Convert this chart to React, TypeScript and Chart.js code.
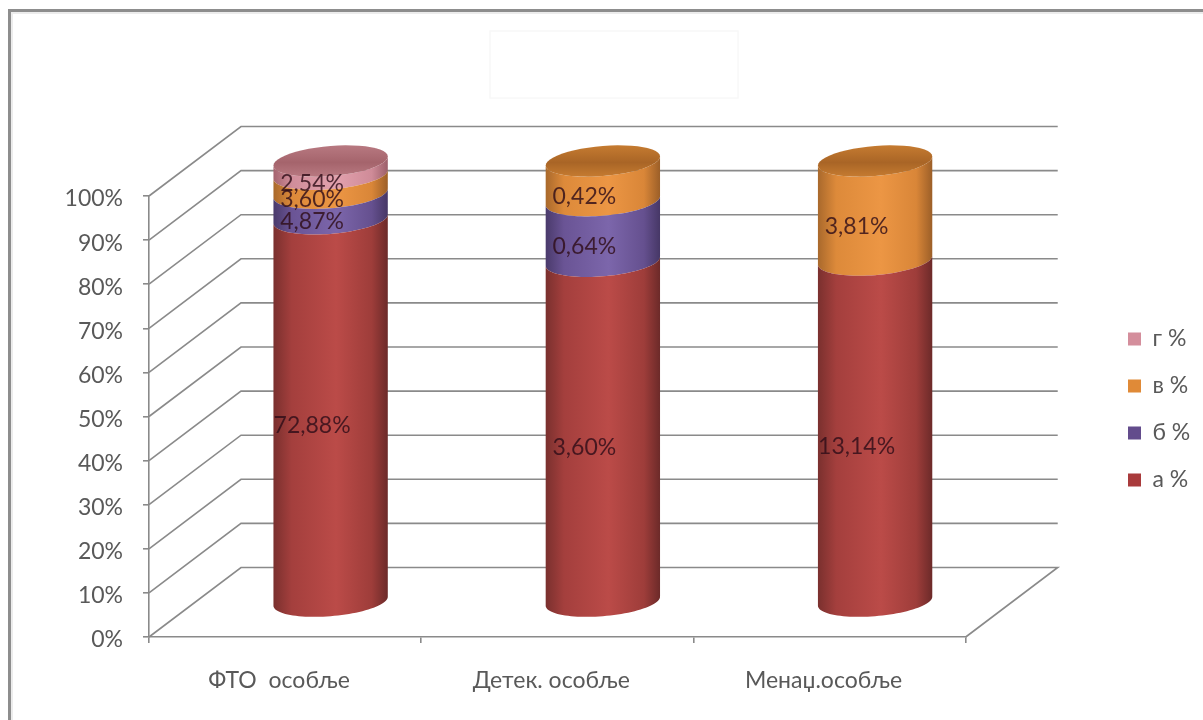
import React, { useEffect, useRef } from "react";
import { Chart, registerables } from "chart.js";

Chart.register(...registerables);

const categories = ["ФТО  особље", "Детек. особље", "Менаџ.особље"];
const seriesNames = ["а %", "б %", "в %", "г %"];
const valuesA = [72.88, 3.6, 13.14];
const valuesB = [4.87, 0.64, 0];
const valuesC = [3.6, 0.42, 3.81];
const valuesD = [2.54, 0, 0];
const rawSeries = [valuesA, valuesB, valuesC, valuesD];

const legendColors = ["#a93b3c", "#634c8c", "#e08a37", "#d48e9c"];
// Each ramp runs edge, mid, highlight, mid, edge across the cylinder; the last two tint its cap.
const ramps = [
  ["#7a302e", "#a43f3d", "#bb4b48", "#9e3d3a", "#6c2a29", "#8f3533", "#a8423f"],
  ["#4a3a6b", "#6a5495", "#7c66ab", "#65508f", "#463766", "#5a4780", "#6a5495"],
  ["#a9692c", "#dd8a3a", "#ec9644", "#d98638", "#9c5f28", "#a96526", "#c47a30"],
  ["#a5646f", "#d08d9a", "#e2a1ad", "#cf8b98", "#9c5f6a", "#a5646c", "#b77880"],
];

const FONT = "Lato, 'Open Sans', sans-serif";
const TEXT = "#595959";
const GRID = "#8a8a8a";

// Oblique projection of the plot depth, and the halves of the depth used by bars and labels.
const DEPTH_X = 92;
const DEPTH_Y = -69.5;
const BAR_DX = 45.5;
const BAR_DY = -35;
const LABEL_DX = 27;
const LABEL_DY = -19;
const CAP_RY = 15;
const CAP_SHEAR = 4.5;

const totals = categories.map((_, i) => rawSeries.reduce((s, d) => s + d[i], 0));
const shares = rawSeries.map((d) => d.map((v, i) => (v / totals[i]) * 100));

const fmt = (v: number) => v.toFixed(2).replace(".", ",") + "%";

function rimPath(ctx: CanvasRenderingContext2D, cx: number, cy: number, rx: number, from: number, to: number, begin: boolean) {
  const n = 48;
  for (let k = 0; k <= n; k++) {
    const t = from + ((to - from) * k) / n;
    const x = cx + rx * Math.cos(t);
    const y = cy + CAP_RY * Math.sin(t) - CAP_SHEAR * Math.cos(t);
    if (k === 0 && begin) ctx.moveTo(x, y);
    else ctx.lineTo(x, y);
  }
}

function hRamp(ctx: CanvasRenderingContext2D, cx: number, rx: number, r: string[]) {
  const g = ctx.createLinearGradient(cx - rx, 0, cx + rx, 0);
  g.addColorStop(0, r[0]);
  g.addColorStop(0.16, r[1]);
  g.addColorStop(0.55, r[2]);
  g.addColorStop(0.86, r[3]);
  g.addColorStop(1, r[4]);
  return g;
}

const cylinderPlugin = {
  id: "cylinders",
  beforeDraw(chart: any) {
    const { ctx } = chart;
    ctx.save();
    // Sheet outline on the top and left, with its soft inner shadow.
    ctx.fillStyle = "#ffffff";
    ctx.fillRect(0, 0, chart.width, chart.height);
    ctx.fillStyle = "#ececec";
    ctx.fillRect(11, 12, chart.width - 11, 2);
    ctx.fillRect(11, 12, 2, chart.height - 12);
    ctx.fillStyle = "#8d8d8d";
    ctx.fillRect(8, 9, chart.width - 8, 3);
    ctx.fillRect(8, 9, 3, chart.height - 9);
    // Empty title placeholder.
    ctx.strokeStyle = "#f8f8f8";
    ctx.lineWidth = 1.5;
    ctx.strokeRect(490, 31, 248, 67);
    ctx.restore();
  },
  afterLayout(chart: any) {
    const legend = chart.legend;
    const shiftY = -7;
    const shiftX = 1104 - legend.left;
    legend.top += shiftY;
    legend.bottom += shiftY;
    legend.left += shiftX;
    legend.right += shiftX;
  },
  beforeDatasetsDraw(chart: any) {
    const { ctx, chartArea: a, scales } = chart;
    ctx.save();
    ctx.strokeStyle = GRID;
    ctx.lineWidth = 1.6;
    (scales.y.ticks as { value: number }[]).forEach((t) => {
      const y = scales.y.getPixelForValue(t.value);
      ctx.beginPath();
      ctx.moveTo(a.left, y);
      ctx.lineTo(a.left + DEPTH_X, y + DEPTH_Y);
      ctx.lineTo(a.right + DEPTH_X, y + DEPTH_Y);
      if (t.value === 0) ctx.lineTo(a.right, y);
      ctx.stroke();
    });
    ctx.restore();
  },
  beforeDatasetDraw(chart: any, args: any) {
    const { ctx } = chart;
    const meta = args.meta;
    const r = ramps[args.index];
    ctx.save();
    meta.data.forEach((bar: any, i: number) => {
      if (rawSeries[args.index][i] <= 0) return;
      const cx = bar.x + BAR_DX;
      const rx = bar.width / 2;
      const yTop = bar.y + BAR_DY;
      const yBase = bar.base + BAR_DY;
      ctx.beginPath();
      rimPath(ctx, cx, yBase, rx, Math.PI, 0, true);
      rimPath(ctx, cx, yTop, rx, 0, Math.PI, false);
      ctx.closePath();
      ctx.fillStyle = hRamp(ctx, cx, rx, r);
      ctx.fill();
      const isTop = rawSeries.slice(args.index + 1).every((d) => d[i] <= 0);
      if (isTop) {
        ctx.beginPath();
        rimPath(ctx, cx, yTop, rx, 0, Math.PI * 2, true);
        ctx.closePath();
        const cap = ctx.createLinearGradient(0, yTop - CAP_RY, 0, yTop + CAP_RY);
        cap.addColorStop(0, r[6]);
        cap.addColorStop(0.55, r[5]);
        cap.addColorStop(1, r[6]);
        ctx.fillStyle = cap;
        ctx.fill();
      }
    });
    ctx.restore();
    return false;
  },
  afterDatasetsDraw(chart: any) {
    const { ctx } = chart;
    ctx.save();
    ctx.font = `23px ${FONT}`;
    ctx.textAlign = "center";
    ctx.textBaseline = "middle";
    ctx.fillStyle = "rgba(48,14,24,0.82)";
    rawSeries.forEach((series, d) => {
      chart.getDatasetMeta(d).data.forEach((bar: any, i: number) => {
        if (series[i] <= 0) return;
        ctx.fillText(fmt(series[i]), bar.x + LABEL_DX, (bar.y + bar.base) / 2 + LABEL_DY);
      });
    });
    ctx.restore();
  },
};

export default function App() {
  const ref = useRef<HTMLCanvasElement>(null);
  useEffect(() => {
    const chart = new Chart(ref.current!, {
      type: "bar",
      data: {
        labels: categories,
        datasets: seriesNames.map((label, i) => ({
          label,
          data: shares[i],
          backgroundColor: legendColors[i],
          borderWidth: 0,
        })),
      },
      options: {
        responsive: false,
        animation: false,
        layout: { autoPadding: false, padding: { top: 196, left: 0, right: 0, bottom: 0 } },
        categoryPercentage: 1,
        barPercentage: 0.42,
        plugins: {
          tooltip: { enabled: false },
          title: { display: false },
          legend: {
            position: "right",
            fullSize: false,
            reverse: true,
            labels: {
              boxWidth: 13,
              boxHeight: 13,
              padding: 24,
              color: TEXT,
              font: { family: FONT, size: 23 },
            },
          },
        },
        scales: {
          x: {
            stacked: true,
            afterFit: (s: any) => {
              s.height = 83;
            },
            grid: { drawOnChartArea: false, drawTicks: true, tickLength: 6, color: GRID, lineWidth: 1.6 },
            border: { color: GRID, width: 1.6 },
            ticks: { color: TEXT, padding: 24, labelOffset: -6, maxRotation: 0, font: { family: FONT, size: 23 } },
          },
          y: {
            stacked: true,
            min: 0,
            max: 100,
            afterFit: (s: any) => {
              s.width = 149;
            },
            grid: { drawOnChartArea: false, drawTicks: true, tickLength: 6, color: GRID, lineWidth: 1.6 },
            border: { color: GRID, width: 1.6 },
            ticks: {
              color: TEXT,
              padding: 20,
              stepSize: 10,
              labelOffset: 3,
              font: { family: FONT, size: 23 },
              callback: (v: any) => `${v}%`,
            },
          },
          // Blank spacer that keeps the plot clear of the legend and the depth of the floor.
          spacer: {
            type: "linear",
            position: "right",
            afterFit: (s: any) => {
              s.width = 141;
            },
            grid: { display: false },
            border: { display: false },
            ticks: { display: false },
          },
        },
      } as any,
      plugins: [cylinderPlugin],
    });
    return () => chart.destroy();
  }, []);
  return (
    <div style={{ position: "absolute", left: 0, top: 0, width: 1203, height: 720 }}>
      <canvas ref={ref} width={1203} height={720} style={{ display: "block" }} />
    </div>
  );
}
